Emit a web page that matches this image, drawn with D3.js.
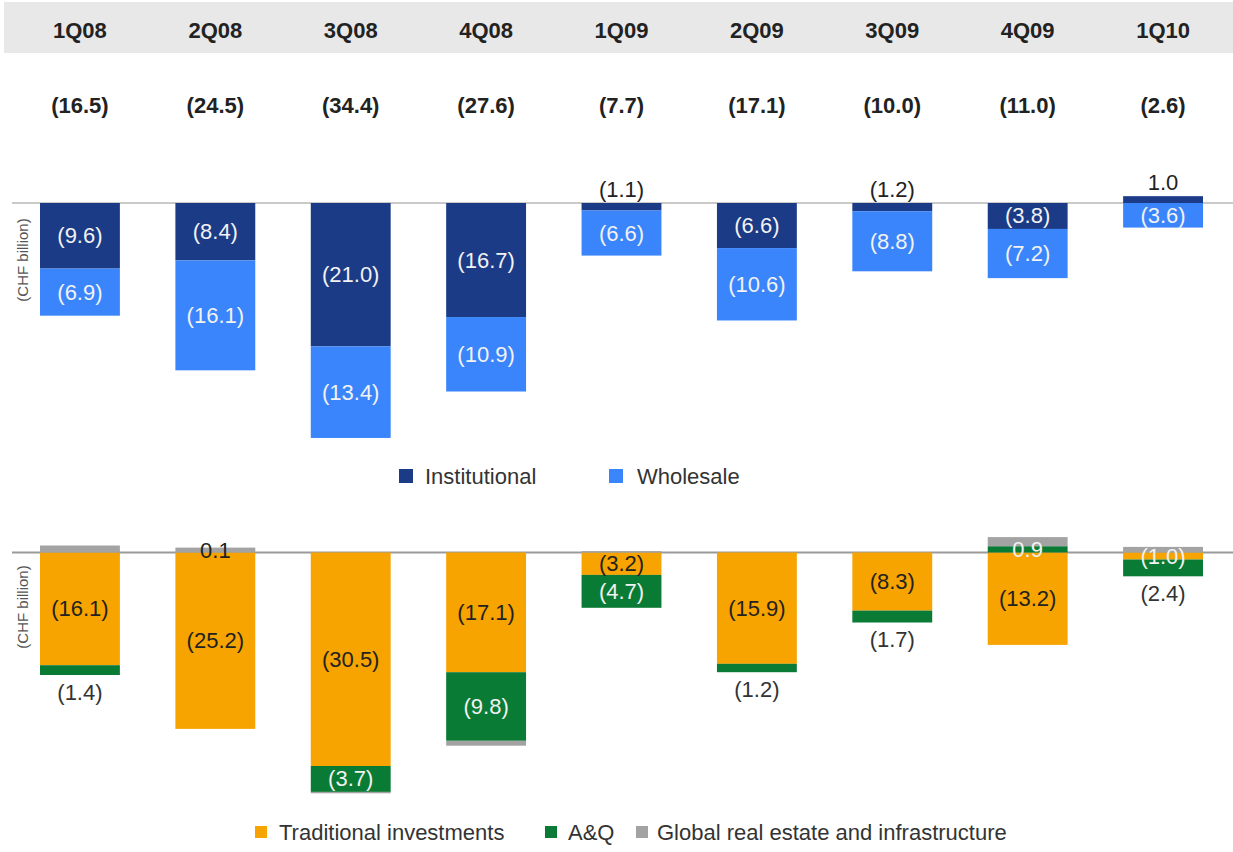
<!DOCTYPE html>
<html>
<head>
<meta charset="utf-8">
<script src="https://cdn.jsdelivr.net/npm/d3@7"></script>
<style>
  body { margin: 0; background: #fff; }
  svg { display: block; font-family: "Liberation Sans", Arial, sans-serif; }
</style>
</head>
<body>
<div id="chart"></div>
<script>
// Net new money by quarter, CHF billion

const quarters = ['1Q08', '2Q08', '3Q08', '4Q08', '1Q09', '2Q09', '3Q09', '4Q09', '1Q10'];
const totals = [-16.5, -24.5, -34.4, -27.6, -7.7, -17.1, -10.0, -11.0, -2.6];

// top panel: by client type
const institutional = [-9.6, -8.4, -21.0, -16.7, -1.1, -6.6, -1.2, -3.8, 1.0];
const wholesale = [-6.9, -16.1, -13.4, -10.9, -6.6, -10.6, -8.8, -7.2, -3.6];

// bottom panel: by business line
const traditional = [-16.1, -25.2, -30.5, -17.1, -3.2, -15.9, -8.3, -13.2, -1.0];
const aq = [-1.4, 0, -3.7, -9.8, -4.7, -1.2, -1.7, 0.9, -2.4];
const realEstate = [1.0, 0.7, -0.2, -0.7, 0.2, 0, 0, 1.3, 0.8];

const traditionalLabels = ['(16.1)', '(25.2)', '(30.5)', '(17.1)', '(3.2)', '(15.9)', '(8.3)', '(13.2)', '(1.0)'];
const aqLabels = ['(1.4)', null, '(3.7)', '(9.8)', '(4.7)', '(1.2)', '(1.7)', '0.9', '(2.4)'];
const realEstateLabels = [null, '0.1', null, null, null, null, null, null, null];

const width = 1233;
const height = 852;

const colors = {
  institutional: '#1b3b86',
  wholesale: '#3a85fb',
  traditional: '#f7a300',
  aq: '#0a7b34',
  realEstate: '#a3a3a3'
};

const fmt = v => v < 0 ? `(${Math.abs(v).toFixed(1)})` : v.toFixed(1);

const svg = d3.select('#chart').append('svg')
  .attr('width', width)
  .attr('height', height);

const x = d3.scaleBand()
  .domain(quarters)
  .range([40, 1203])
  .paddingInner(0.41)
  .paddingOuter(0);

// header band
svg.append('rect')
  .attr('x', 4).attr('y', 2)
  .attr('width', width - 4).attr('height', 51)
  .attr('fill', '#e8e8e8');

svg.append('g').selectAll('text')
  .data(quarters)
  .join('text')
  .attr('x', d => x(d) + x.bandwidth() / 2)
  .attr('y', 30)
  .attr('text-anchor', 'middle')
  .attr('dominant-baseline', 'central')
  .attr('font-size', 22)
  .attr('font-weight', 'bold')
  .attr('fill', '#222')
  .text(d => d);

svg.append('g').selectAll('text')
  .data(totals)
  .join('text')
  .attr('x', (d, i) => x(quarters[i]) + x.bandwidth() / 2)
  .attr('y', 105)
  .attr('text-anchor', 'middle')
  .attr('dominant-baseline', 'central')
  .attr('font-size', 22)
  .attr('font-weight', 'bold')
  .attr('fill', '#222')
  .text(d => fmt(d));

function drawPanel(opts) {
  const { keys, series, y, lineColor, unitY } = opts;
  const rows = quarters.map((q, i) => {
    const r = { q };
    keys.forEach(k => r[k] = series[k][i]);
    return r;
  });

  const stacked = d3.stack()
    .keys(keys)
    .offset(d3.stackOffsetDiverging)(rows);

  svg.append('line')
    .attr('x1', 12).attr('x2', width)
    .attr('y1', y(0)).attr('y2', y(0))
    .attr('stroke', lineColor)
    .attr('stroke-width', 2);

  const g = svg.append('g');
  stacked.forEach(layer => {
    g.append('g')
      .attr('fill', colors[layer.key])
      .selectAll('rect')
      .data(layer)
      .join('rect')
      .attr('x', d => x(d.data.q))
      .attr('width', x.bandwidth())
      .attr('y', d => y(d[1]))
      .attr('height', d => Math.max(0, y(d[0]) - y(d[1])));
  });

  svg.append('text')
    .attr('transform', `translate(22,${unitY}) rotate(-90)`)
    .attr('text-anchor', 'middle')
    .attr('dominant-baseline', 'central')
    .attr('font-size', 15)
    .attr('fill', '#555')
    .text('(CHF billion)');

  return stacked;
}

// ---- top panel
const yTop = d3.scaleLinear().domain([2, -36]).range([203 - 2 * 6.83, 203 + 36 * 6.83]);
const topStack = drawPanel({
  keys: ['institutional', 'wholesale'],
  series: { institutional, wholesale },
  y: yTop,
  lineColor: '#cacaca',
  unitY: 260
});

const topLabels = [];
topStack.forEach(layer => {
  layer.forEach((d, i) => {
    const v = layer.key === 'institutional' ? institutional[i] : wholesale[i];
    const top = yTop(d[1]), bottom = yTop(d[0]);
    const h = bottom - top;
    const small = h < 12;
    topLabels.push({
      x: x(quarters[i]) + x.bandwidth() / 2,
      y: small ? top - 14 : (top + bottom) / 2,
      text: fmt(v),
      color: small ? '#222' : '#f2f2f2'
    });
  });
});

svg.append('g').selectAll('text')
  .data(topLabels)
  .join('text')
  .attr('x', d => d.x)
  .attr('y', d => d.y)
  .attr('text-anchor', 'middle')
  .attr('dominant-baseline', 'central')
  .attr('font-size', 22)
  .attr('fill', d => d.color)
  .text(d => d.text);

// ---- bottom panel
const yBot = d3.scaleLinear().domain([2, -36]).range([552.5 - 2 * 7, 552.5 + 36 * 7]);
const botStack = drawPanel({
  keys: ['traditional', 'aq', 'realEstate'],
  series: { traditional, aq, realEstate },
  y: yBot,
  lineColor: '#9a9a9a',
  unitY: 607
});

const labelSets = { traditional: traditionalLabels, aq: aqLabels, realEstate: realEstateLabels };
const barBottom = quarters.map((q, i) => d3.max(botStack, layer => yBot(layer[i][0])));

const botLabels = [];
botStack.forEach(layer => {
  layer.forEach((d, i) => {
    const text = labelSets[layer.key][i];
    if (!text) return;
    const top = yBot(d[1]), bottom = yBot(d[0]);
    const h = bottom - top;
    const cx = x(quarters[i]) + x.bandwidth() / 2;
    let ly = (top + bottom) / 2, color;
    if (layer.key === 'traditional') {
      color = h < 12 ? '#f2f2f2' : '#222';
    } else if (layer.key === 'aq') {
      if (aq[i] < 0 && h < 20) {
        ly = barBottom[i] + 17;
        color = '#333';
      } else {
        color = '#f2f2f2';
      }
    } else {
      color = '#222';
    }
    botLabels.push({ x: cx, y: ly, text, color });
  });
});

svg.append('g').selectAll('text')
  .data(botLabels)
  .join('text')
  .attr('x', d => d.x)
  .attr('y', d => d.y)
  .attr('text-anchor', 'middle')
  .attr('dominant-baseline', 'central')
  .attr('font-size', 22)
  .attr('fill', d => d.color)
  .text(d => d.text);

// ---- legends
function legend(items, cy, size) {
  const g = svg.append('g');
  items.forEach(it => {
    g.append('rect')
      .attr('x', it.sx).attr('y', cy - size / 2)
      .attr('width', size).attr('height', size)
      .attr('fill', colors[it.key]);
    g.append('text')
      .attr('x', it.tx).attr('y', cy)
      .attr('dominant-baseline', 'central')
      .attr('font-size', 22)
      .attr('fill', '#333')
      .text(it.label);
  });
}

legend([
  { key: 'institutional', label: 'Institutional', sx: 399, tx: 425 },
  { key: 'wholesale', label: 'Wholesale', sx: 609, tx: 637 }
], 476, 14);

legend([
  { key: 'traditional', label: 'Traditional investments', sx: 255, tx: 279 },
  { key: 'aq', label: 'A&Q', sx: 545, tx: 568 },
  { key: 'realEstate', label: 'Global real estate and infrastructure', sx: 636, tx: 657 }
], 832, 12);
</script>
</body>
</html>
